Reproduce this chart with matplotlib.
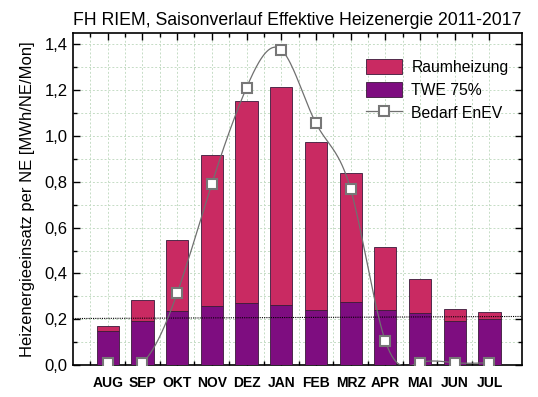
import numpy as np
import matplotlib
matplotlib.use("Agg")
import matplotlib.pyplot as plt
from matplotlib.ticker import MultipleLocator, FixedLocator

plt.rcParams['font.family'] = ['Liberation Sans', 'DejaVu Sans']

months = ["AUG", "SEP", "OKT", "NOV", "DEZ", "JAN", "FEB", "MRZ", "APR", "MAI", "JUN", "JUL"]
# total (Raumheizung top) and TWE share, MWh/NE/Mon
total = [0.170, 0.284, 0.546, 0.918, 1.154, 1.215, 0.976, 0.838, 0.514, 0.376, 0.243, 0.230]
twe = [0.148, 0.192, 0.236, 0.258, 0.270, 0.262, 0.240, 0.275, 0.239, 0.226, 0.192, 0.201]
bedarf = [0.01, 0.01, 0.313, 0.791, 1.211, 1.377, 1.056, 0.768, 0.105, 0.01, 0.01, 0.01]
grundlast = [0.203, 0.212]  # dotted line, left and right end

raum = [t - w for t, w in zip(total, twe)]
x = np.arange(len(months))


def natural_spline(xs, ys, n=400):
    # smooth connecting line, like the "spline" connect in the original
    xs = np.asarray(xs, float)
    ys = np.asarray(ys, float)
    k = len(xs)
    h = np.diff(xs)
    A = np.zeros((k, k))
    b = np.zeros(k)
    A[0, 0] = A[-1, -1] = 1
    for i in range(1, k - 1):
        A[i, i - 1] = h[i - 1]
        A[i, i] = 2 * (h[i - 1] + h[i])
        A[i, i + 1] = h[i]
        b[i] = 3 * ((ys[i + 1] - ys[i]) / h[i] - (ys[i] - ys[i - 1]) / h[i - 1])
    c = np.linalg.solve(A, b)
    xx = np.linspace(xs[0], xs[-1], n)
    idx = np.clip(np.searchsorted(xs, xx) - 1, 0, k - 2)
    dx = xx - xs[idx]
    bb = (ys[idx + 1] - ys[idx]) / h[idx] - h[idx] * (2 * c[idx] + c[idx + 1]) / 3
    d = (c[idx + 1] - c[idx]) / (3 * h[idx])
    return xx, ys[idx] + bb * dx + c[idx] * dx ** 2 + d * dx ** 3


fig = plt.figure(figsize=(5.38, 3.97), dpi=100)
ax = fig.add_axes([0.1357, 0.0806, 0.834, 0.8363])

ax.bar(x, twe, width=0.64, color="#7E0D80", edgecolor="#3a1a3a", linewidth=0.6,
       label="TWE 75%", zorder=3)
ax.bar(x, raum, bottom=twe, width=0.64, color="#C92A62", edgecolor="#3a1a3a",
       linewidth=0.6, label="Raumheizung", zorder=3)

ax.plot([-1.0, 11.93], grundlast, color="black", linestyle=(0, (1, 1)), linewidth=0.8, zorder=4)

xs, ys = natural_spline(x, bedarf)
ax.plot(xs, ys, color="#707070", linewidth=0.9, zorder=5)
ax.plot(x, bedarf, linestyle="none", marker="s", markersize=7, markerfacecolor="white",
        markeredgecolor="#777777", markeredgewidth=1.5, zorder=6)
ax.plot([], [], color="#707070", linewidth=0.9, marker="s", markersize=7,
        markerfacecolor="white", markeredgecolor="#777777", markeredgewidth=1.5,
        label="Bedarf EnEV")

ax.set_xlim(-1.0, 11.93)
ax.set_ylim(0, 1.45)
ax.xaxis.set_major_locator(FixedLocator(x))
ax.xaxis.set_minor_locator(FixedLocator(x - 0.5))
ax.set_xticklabels(months, fontsize=10, fontweight="bold")
ax.yaxis.set_major_locator(MultipleLocator(0.2))
ax.yaxis.set_minor_locator(MultipleLocator(0.1))
ax.set_yticklabels([f"{v:.1f}".replace(".", ",") for v in ax.get_yticks()], fontsize=12)
ax.tick_params(which="both", direction="in", top=True, right=True, width=1.0)
ax.tick_params(which="major", length=5, pad=4)
ax.tick_params(which="minor", length=3)
ax.tick_params(axis="x", which="major", pad=8)

ax.grid(which="both", color="#c5dcc5", linestyle=(0, (2, 2)), linewidth=0.7, zorder=0)
ax.set_axisbelow(True)
for s in ax.spines.values():
    s.set_linewidth(1.2)

ax.set_ylabel("Heizenergieeinsatz per NE [MWh/NE/Mon]", fontsize=12, labelpad=7)
ax.set_title("FH RIEM, Saisonverlauf Effektive Heizenergie 2011-2017", fontsize=12.7, pad=6)

h, l = ax.get_legend_handles_labels()
order = [l.index("Raumheizung"), l.index("TWE 75%"), l.index("Bedarf EnEV")]
leg = ax.legend([h[i] for i in order], [l[i] for i in order], loc="upper right",
                bbox_to_anchor=(0.985, 0.94),
                frameon=False, fontsize=11.3, handlelength=2.3, handleheight=1.1,
                labelspacing=0.45, borderaxespad=0.0, handletextpad=0.6)

fig.savefig("out.png", dpi=100)
